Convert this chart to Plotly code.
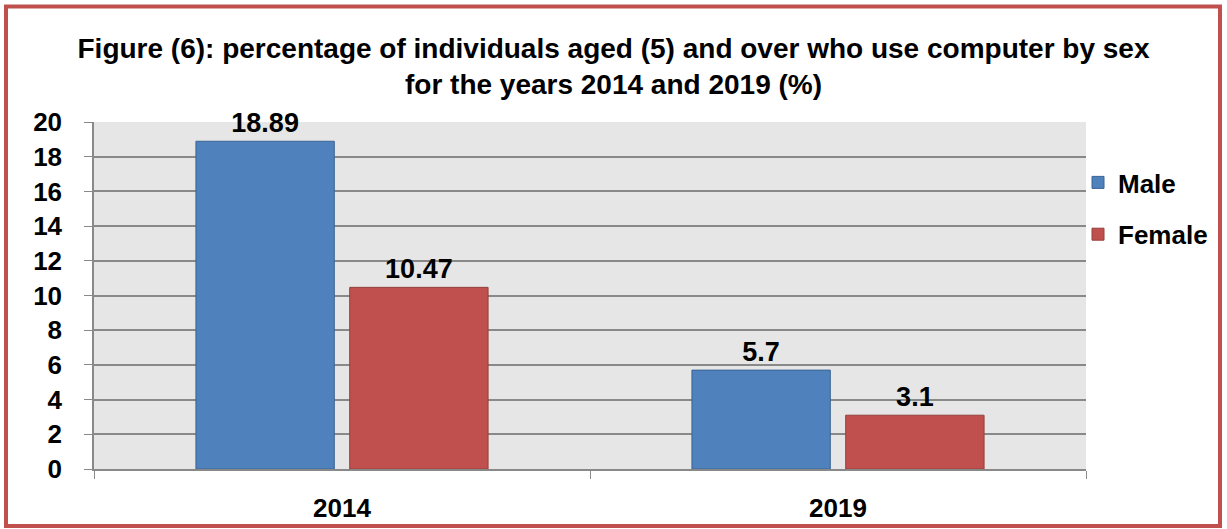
import plotly.graph_objects as go

years = ["2014", "2019"]
male = [18.89, 5.7]
female = [10.47, 3.1]
yticks = list(range(0, 21, 2))

W, H = 1227, 529
L, R, T, B = 94, 141, 122, 60
pw, ph = W - L - R, H - T - B

FONT = "Liberation Sans, Arial, sans-serif"

fig = go.Figure()
fig.add_trace(go.Bar(
    x=years, y=male, name="<b>Male</b>", legendgroup="m",
    marker=dict(color="#4f81bd", line=dict(color="#3a6494", width=1)),
    text=[f"<b>{v}</b>" for v in male], textposition="outside",
    textfont=dict(family=FONT, size=27, color="black"), cliponaxis=False,
))
fig.add_trace(go.Bar(
    x=years, y=female, name="<b>Female</b>", legendgroup="f",
    marker=dict(color="#c0504d", line=dict(color="#94403d", width=1)),
    text=[f"<b>{v}</b>" for v in female], textposition="outside",
    textfont=dict(family=FONT, size=27, color="black"), cliponaxis=False,
))

def px_to_paper_x(x):
    return (x - L) / pw

def px_to_paper_y(y):
    return (H - B - y) / ph

fig.update_layout(
    width=W, height=H,
    margin=dict(l=L, r=R, t=T, b=B, autoexpand=False),
    paper_bgcolor="white",
    plot_bgcolor="#e6e6e6",
    barmode="group",
    bargap=0.38,
    bargroupgap=0.10,
    font=dict(family=FONT, size=20, color="black"),
    title=dict(
        text="<b>Figure (6): percentage of individuals aged (5) and over who use computer by sex<br>for the years 2014 and 2019 (%)</b>",
        x=0.5, xanchor="center", y=1 - 58 / H, yanchor="top",
        font=dict(family=FONT, size=28, color="black"),
    ),
    legend=dict(
        x=px_to_paper_x(1078), xanchor="left", y=px_to_paper_y(159), yanchor="top",
        font=dict(family=FONT, size=26, color="black"),
        traceorder="grouped", tracegroupgap=15,
        bgcolor="rgba(0,0,0,0)", itemwidth=30,
    ),
    showlegend=True,
    shapes=[dict(
        type="rect", xref="paper", yref="paper",
        x0=px_to_paper_x(6), x1=px_to_paper_x(1220),
        y0=px_to_paper_y(526), y1=px_to_paper_y(6.5),
        line=dict(color="#c0504d", width=4), fillcolor="rgba(0,0,0,0)", layer="below",
    )],
)
fig.update_xaxes(
    type="category", tickson="boundaries", ticks="outside", ticklen=8,
    tickcolor="#898989", showline=True, linecolor="#898989", linewidth=1.5,
    showgrid=False, tickfont=dict(family=FONT, size=26, color="black"),
    tickprefix="<b>", ticksuffix="</b>", ticklabelstandoff=15, automargin=False,
)
fig.update_yaxes(
    range=[0, 20], tickvals=yticks, ticktext=[f"<b>{v}</b>" for v in yticks],
    ticks="outside", ticklen=8, tickcolor="#898989",
    showline=True, linecolor="#898989", linewidth=1.5,
    showgrid=True, gridcolor="#898989", gridwidth=1.5,
    tickfont=dict(family=FONT, size=26, color="black"), zeroline=False,
    ticklabelstandoff=17, automargin=False,
)
fig.write_html("out.html", config={"displayModeBar": False},
               post_script="document.body.style.margin='0';")
